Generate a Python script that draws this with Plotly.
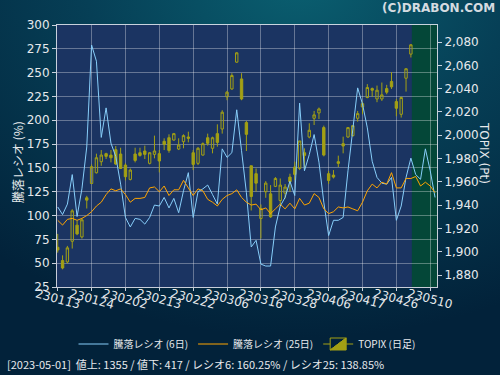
import base64
import plotly.graph_objects as go

# ---------------- data ----------------
tick_labels = ["230113", "230124", "230202", "230213", "230222", "230306",
               "230316", "230328", "230406", "230417", "230426", "230510"]
tick_step = 7  # trading days between labelled ticks

ratio6 = [109, 101, 112, 143, 99, 128, 172, 279, 262, 182,
          213, 176, 162, 133, 98, 88, 97, 96, 91, 98,
          111, 110, 119, 108, 118, 103, 126, 145, 98, 125,
          128, 132, 122, 112, 170, 161, 166, 211, 168, 124,
          67, 74, 49, 47, 47, 88, 110, 119, 136, 121,
          218, 147, 164, 185, 156, 114, 79, 95, 95, 98,
          147, 192, 234, 217, 192, 157, 140, 134, 133, 140,
          95, 110, 140, 160.25, 143, 138, 170, 147, 119]

ratio25 = [95, 90, 96, 97, 95, 97, 100, 104, 110, 114,
           122, 128, 126, 128, 122, 114, 118, 118, 119, 129,
           130, 125, 131, 121, 127, 127, 137, 129, 121, 128,
           126, 117, 114, 110, 117, 121, 123, 127, 119, 114,
           111, 112, 106, 108, 102, 107, 112, 107, 113, 107,
           118, 111, 113, 123, 119, 107, 102, 104, 109, 108,
           109, 107, 105, 114, 126, 133, 129, 135, 133, 145,
           129, 129, 139, 138.85, 141, 131, 135, 131, 124]

topix_open = [1903.8, 1892.4, 1891.2, 1909.0, 1922.8, 1912.7, 1946.3, 1958.6, 1967.8, 1977.3,
              1984.2, 1983.0, 1987.6, 1983.9, 1974.4, 1962.1, 1983.9, 1985.0, 1986.5, 1975.9,
              1983.6, 1984.2, 1994.8, 1997.9, 1995.9, 1988.2, 1994.5, 1998.5, 1985.0, 1975.9,
              1983.0, 1997.9, 1988.8, 2001.4, 2005.4, 2033.0, 2039.8, 2062.8, 2048.4, 2010.9,
              1973.8, 1967.0, 1928.5, 1951.5, 1949.7, 1956.1, 1944.0, 1950.3, 1964.1, 1972.7,
              1971.5, 1985.0, 1998.5, 2014.6, 2019.2, 2006.6, 1967.0, 1965.8, 1977.3, 1992.8,
              1998.5, 1999.7, 2014.6, 2024.3, 2032.4, 2040.1, 2031.2, 2031.2, 2040.1, 2046.2,
              2028.9, 2018.0, 2049.0, 2069.7]
topix_high = [1915.3, 1896.9, 1905.0, 1936.5, 1926.8, 1928.5, 1948.0, 1975.0, 1984.2, 1987.3,
              1985.0, 1987.3, 1990.8, 1989.3, 1975.9, 1971.5, 1989.3, 1989.3, 1991.1, 1985.6,
              1999.7, 1987.3, 1997.4, 2000.8, 2002.0, 1997.4, 2000.8, 2003.1, 1987.3, 1989.9,
              1993.9, 2001.4, 1998.8, 2009.4, 2021.5, 2038.1, 2053.3, 2071.4, 2053.3, 2012.3,
              1973.8, 1971.5, 1940.6, 1960.6, 1957.2, 1964.1, 1962.9, 1958.1, 1967.0, 1977.3,
              1995.1, 1988.8, 2010.3, 2020.9, 2023.8, 2008.3, 1969.3, 1970.1, 1982.5, 1998.8,
              2007.1, 2008.8, 2020.9, 2028.9, 2043.9, 2041.0, 2042.7, 2045.3, 2043.3, 2054.2,
              2031.2, 2033.2, 2057.6, 2078.3]
topix_low = [1899.2, 1884.9, 1890.1, 1902.7, 1914.2, 1911.3, 1937.1, 1958.1, 1967.2, 1973.8,
             1979.6, 1976.7, 1974.4, 1971.0, 1961.2, 1961.2, 1976.7, 1981.6, 1979.6, 1975.0,
             1980.2, 1968.1, 1987.3, 1985.0, 1995.4, 1987.3, 1988.8, 1993.9, 1970.1, 1974.4,
             1982.5, 1991.1, 1984.5, 1990.2, 2001.4, 2030.1, 2039.0, 2062.2, 2030.1, 1986.5,
             1935.4, 1951.5, 1911.3, 1946.3, 1929.1, 1955.5, 1940.0, 1945.7, 1951.5, 1961.5,
             1970.1, 1971.5, 1997.4, 2008.8, 2014.0, 1981.9, 1958.3, 1962.9, 1972.7, 1984.5,
             1997.9, 1998.8, 2011.7, 2018.0, 2031.8, 2033.0, 2028.4, 2029.5, 2035.2, 2039.8,
             2016.3, 2015.2, 2037.5, 2066.8]
topix_close = [1901.5, 1886.0, 1903.3, 1935.1, 1915.3, 1927.4, 1944.3, 1973.0, 1980.7, 1983.0,
               1981.9, 1980.7, 1975.3, 1971.5, 1964.4, 1970.1, 1978.4, 1982.7, 1983.6, 1985.0,
               1986.5, 1977.9, 1992.2, 1987.0, 2001.4, 1991.6, 1999.7, 1997.4, 1975.0, 1988.8,
               1992.8, 1993.1, 1997.9, 1993.9, 2019.8, 2037.0, 2051.3, 2070.8, 2031.2, 2000.8,
               1947.4, 1958.9, 1937.1, 1958.9, 1929.9, 1962.9, 1957.2, 1955.5, 1960.1, 1966.4,
               1995.1, 1982.7, 2004.3, 2017.5, 2022.6, 1983.0, 1961.2, 1964.1, 1975.9, 1990.8,
               2006.6, 2008.3, 2018.6, 2027.2, 2041.0, 2038.7, 2038.7, 2034.7, 2037.0, 2041.6,
               2023.2, 2032.4, 2057.1, 2077.7]

info_text = "[2023-05-01]  値上: 1355 / 値下: 417 / レシオ6: 160.25% / レシオ25: 138.85%"

# ---------------- styles ----------------
FONT = "DejaVu Sans, Noto Sans CJK JP, sans-serif"
JFONT = "Noto Sans CJK JP, DejaVu Sans, sans-serif"
OLIVE = "#a3a014"
GRID = "rgba(255,255,255,0.33)"
AXIS = "rgba(235,235,245,0.85)"
TXT = "#e6e9ec"

x_lines = list(range(len(ratio6)))
x_candles = list(range(len(topix_open)))
tick_pos = [k * tick_step for k in range(len(tick_labels))]
x_range = [-0.15, 78.4]

fig = go.Figure()
fig.add_trace(go.Candlestick(
    x=x_candles, open=topix_open, high=topix_high, low=topix_low, close=topix_close,
    name="TOPIX (日足)", legendrank=3, yaxis="y",
    increasing=dict(line=dict(color=OLIVE, width=1), fillcolor="rgba(0,0,0,0)"),
    decreasing=dict(line=dict(color=OLIVE, width=1), fillcolor=OLIVE),
    whiskerwidth=0, hoverinfo="skip"))
fig.add_trace(go.Scatter(x=x_lines, y=ratio6, mode="lines", yaxis="y2",
                         line=dict(color="#87cefa", width=1),
                         name="騰落レシオ (6日)", legendrank=1))
fig.add_trace(go.Scatter(x=x_lines, y=ratio25, mode="lines", yaxis="y2",
                         line=dict(color="#ffa500", width=1),
                         name="騰落レシオ (25日)", legendrank=2))

# background gradient as an inline SVG
svg = (
    "<svg xmlns='http://www.w3.org/2000/svg' width='500' height='375' viewBox='0 0 500 375' preserveAspectRatio='none'>"
    "<defs><radialGradient id='g' cx='0.6' cy='-0.05' r='0.95'>"
    "<stop offset='0' stop-color='#0a5f70'/>"
    "<stop offset='0.45' stop-color='#063f56'/>"
    "<stop offset='1' stop-color='#02223a'/>"
    "</radialGradient></defs>"
    "<rect width='500' height='375' fill='url(#g)'/></svg>"
)
svg_uri = "data:image/svg+xml;base64," + base64.b64encode(svg.encode()).decode()

L, R, T, B = 57, 63, 25, 88
PW, PH = 500 - L - R, 375 - T - B

def px_x(px):
    return (px - L) / PW

def px_y(py):
    return (375 - B - py) / PH

annotations = []
for pos, lab in zip(tick_pos, tick_labels):
    annotations.append(dict(x=pos, y=px_y(299), xref="x", yref="paper", text=lab,
                            textangle=15, showarrow=False, xanchor="center", yanchor="middle",
                            font=dict(size=12, color=TXT, family=FONT)))
annotations += [
    dict(x=px_x(18), y=px_y(162), xref="paper", yref="paper", text="騰落レシオ (%)",
         textangle=-90, showarrow=False, xanchor="center", yanchor="middle",
         font=dict(size=12, color=TXT, family=JFONT)),
    dict(x=px_x(484), y=px_y(153), xref="paper", yref="paper", text="TOPIX (Pt)",
         textangle=90, showarrow=False, xanchor="center", yanchor="middle",
         font=dict(size=12, color=TXT, family=FONT)),
    dict(x=px_x(497), y=px_y(8), xref="paper", yref="paper", text="<b>(C)DRABON.COM</b>",
         xanchor="right", yanchor="middle", showarrow=False,
         font=dict(size=12, color="#d5dbe0", family=FONT)),
    dict(x=px_x(5), y=px_y(364), xref="paper", yref="paper", text=info_text,
         xanchor="left", yanchor="middle", showarrow=False,
         font=dict(size=11, color=TXT, family=JFONT)),
]

fig.update_layout(
    width=500, height=375,
    margin=dict(l=L, r=R, t=T, b=B, pad=0, autoexpand=False),
    paper_bgcolor="#04304a", plot_bgcolor="rgba(0,0,0,0)",
    font=dict(family=FONT, color=TXT, size=12),
    showlegend=True,
    legend=dict(orientation="h", x=0.5, xanchor="center", y=px_y(344), yanchor="middle",
                font=dict(size=10, color=TXT, family=JFONT), bgcolor="rgba(0,0,0,0)",
                itemwidth=30, traceorder="normal"),
    xaxis=dict(range=x_range, tickvals=tick_pos, showticklabels=False,
               showgrid=True, gridcolor=GRID, gridwidth=1, zeroline=False,
               showline=True, linecolor=AXIS, linewidth=1, mirror=True,
               ticks="outside", ticklen=3, tickcolor=AXIS,
               rangeslider=dict(visible=False), fixedrange=True),
    yaxis=dict(side="right", range=[1869.7, 2094.7],
               tickvals=list(range(1880, 2081, 20)), tickformat=",d",
               showgrid=False, zeroline=False, ticks="outside", ticklen=4,
               tickcolor=AXIS, showline=True, linecolor=AXIS,
               tickfont=dict(size=12, color=TXT, family=FONT)),
    yaxis2=dict(overlaying="y", side="left", range=[25, 300], tick0=25, dtick=25,
                showgrid=True, gridcolor=GRID, zeroline=False, ticks="outside",
                ticklen=4, tickcolor=AXIS, showline=True, linecolor=AXIS,
                tickfont=dict(size=12, color=TXT, family=FONT)),
    images=[dict(source=svg_uri, xref="paper", yref="paper", x=px_x(0), y=px_y(0),
                 sizex=500 / PW, sizey=375 / PH, xanchor="left", yanchor="top",
                 sizing="stretch", layer="below")],
    shapes=[
        dict(type="rect", xref="paper", yref="paper", x0=0, x1=1, y0=0, y1=1,
             fillcolor="#1b3462", line=dict(width=0), layer="below"),
        dict(type="rect", xref="x", yref="paper", x0=73.2, x1=x_range[1], y0=0, y1=1,
             fillcolor="#044738", line=dict(width=0), layer="below"),
    ],
    annotations=annotations,
)

fig.write_html("out.html", config={"displayModeBar": False, "staticPlot": True},
               post_script="document.body.style.margin='0';document.body.style.overflow='hidden';")
